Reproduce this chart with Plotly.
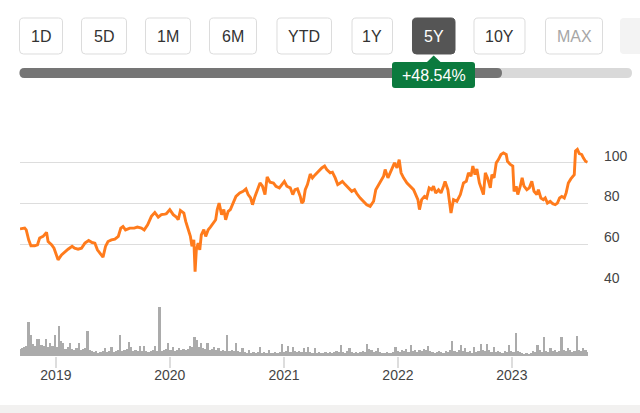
import plotly.graph_objects as go
import pandas as pd

# ---------------- data ----------------
price_dates = [
    "2018-09-08", "2018-09-23", "2018-09-28", "2018-10-06", "2018-10-13", "2018-10-25",
    "2018-11-03", "2018-11-10", "2018-11-21", "2018-12-02", "2018-12-07", "2018-12-18",
    "2018-12-26", "2019-01-03", "2019-01-08", "2019-01-19", "2019-01-30", "2019-02-09",
    "2019-02-22", "2019-03-02", "2019-03-13", "2019-03-24", "2019-04-04", "2019-04-16",
    "2019-04-27", "2019-05-06", "2019-05-14", "2019-05-25", "2019-06-01", "2019-06-09",
    "2019-06-17", "2019-06-28", "2019-07-09", "2019-07-20", "2019-07-28", "2019-08-04",
    "2019-08-12", "2019-08-26", "2019-09-09", "2019-09-19", "2019-10-02", "2019-10-11",
    "2019-10-22", "2019-11-03", "2019-11-14", "2019-11-25", "2019-12-05", "2019-12-16",
    "2019-12-21", "2020-01-01", "2020-01-12", "2020-01-22", "2020-01-28", "2020-02-04",
    "2020-02-15", "2020-02-21", "2020-02-29", "2020-03-07", "2020-03-12", "2020-03-18",
    "2020-03-22", "2020-03-26", "2020-04-01", "2020-04-06", "2020-04-11", "2020-04-19",
    "2020-04-25", "2020-05-03", "2020-05-10", "2020-05-19", "2020-05-27", "2020-06-01",
    "2020-06-07", "2020-06-15", "2020-06-22", "2020-06-28", "2020-07-06", "2020-07-13",
    "2020-07-22", "2020-07-31", "2020-08-12", "2020-08-23", "2020-09-01", "2020-09-08",
    "2020-09-16", "2020-09-22", "2020-09-30", "2020-10-07", "2020-10-16", "2020-10-24",
    "2020-11-01", "2020-11-08", "2020-11-17", "2020-11-28", "2020-12-06", "2020-12-17",
    "2020-12-25", "2021-01-02", "2021-01-10", "2021-01-21", "2021-01-29", "2021-02-05",
    "2021-02-13", "2021-02-22", "2021-02-27", "2021-03-04", "2021-03-10", "2021-03-17",
    "2021-03-26", "2021-04-02", "2021-04-11", "2021-04-21", "2021-05-02", "2021-05-11",
    "2021-05-18", "2021-05-29", "2021-06-05", "2021-06-14", "2021-06-22", "2021-06-30",
    "2021-07-07", "2021-07-16", "2021-07-27", "2021-08-06", "2021-08-15", "2021-08-22",
    "2021-09-02", "2021-09-13", "2021-09-23", "2021-10-04", "2021-10-15", "2021-10-22",
    "2021-10-31", "2021-11-08", "2021-11-16", "2021-11-21", "2021-11-30", "2021-12-07",
    "2021-12-15", "2021-12-21", "2021-12-29", "2022-01-05", "2022-01-11", "2022-01-19",
    "2022-01-30", "2022-02-09", "2022-02-20", "2022-02-27", "2022-03-06", "2022-03-11",
    "2022-03-18", "2022-03-27", "2022-04-03", "2022-04-11", "2022-04-19", "2022-04-25",
    "2022-05-02", "2022-05-11", "2022-05-19", "2022-05-27", "2022-06-01", "2022-06-10",
    "2022-06-15", "2022-06-20", "2022-06-28", "2022-07-09", "2022-07-20", "2022-07-30",
    "2022-08-08", "2022-08-15", "2022-08-23", "2022-08-29", "2022-09-05", "2022-09-11",
    "2022-09-19", "2022-09-27", "2022-10-02", "2022-10-08", "2022-10-15", "2022-10-24",
    "2022-10-29", "2022-11-05", "2022-11-12", "2022-11-19", "2022-11-27", "2022-12-05",
    "2022-12-14", "2022-12-18", "2022-12-27", "2023-01-04", "2023-01-08", "2023-01-15",
    "2023-01-20", "2023-01-28", "2023-02-03", "2023-02-09", "2023-02-18", "2023-02-26",
    "2023-03-06", "2023-03-13", "2023-03-22", "2023-03-27", "2023-04-04", "2023-04-12",
    "2023-04-18", "2023-04-25", "2023-05-04", "2023-05-12", "2023-05-20", "2023-05-27",
    "2023-06-03", "2023-06-10", "2023-06-18", "2023-06-24", "2023-07-01", "2023-07-09",
    "2023-07-15", "2023-07-20", "2023-07-24", "2023-07-30", "2023-08-05", "2023-08-13",
    "2023-08-18", "2023-08-25", "2023-08-31",
]
price_values = [
    67.5, 67.9, 67.0, 62.0, 59.2, 59.2,
    59.7, 63.0, 63.8, 65.8, 61.3, 59.7,
    58.0, 53.9, 52.3, 54.7, 56.4, 57.5,
    58.9, 58.0, 57.5, 58.0, 60.5, 61.8,
    60.8, 60.5, 57.2, 54.7, 53.6, 58.9,
    61.3, 62.1, 62.5, 63.8, 67.9, 68.7,
    67.0, 67.9, 67.9, 68.4, 67.9, 67.0,
    69.5, 73.7, 75.6, 73.3, 74.5, 74.8,
    75.0, 77.0, 74.5, 73.3, 72.0, 76.6,
    75.3, 71.2, 67.1, 63.8, 58.9, 62.1,
    46.5, 57.2, 60.5, 57.2, 64.6, 67.1,
    63.8, 67.1, 68.4, 70.4, 72.0, 77.0,
    80.2, 74.5, 77.0, 72.0, 76.1, 77.0,
    80.2, 83.5, 85.2, 86.0, 87.2, 84.4,
    82.7, 79.4, 83.5, 86.8, 90.1, 88.5,
    84.4, 93.1, 90.5, 90.1, 88.5, 87.7,
    89.3, 90.9, 88.5, 87.7, 84.4, 86.8,
    87.2, 83.5, 80.2, 81.1, 86.8, 89.3,
    94.5, 92.6, 94.2, 95.9, 97.5, 98.4,
    96.7, 95.1, 95.4, 92.6, 89.3, 90.1,
    90.9, 89.3, 87.7, 86.0, 86.8, 84.9,
    82.7, 81.1, 79.4, 78.6, 81.1, 86.8,
    89.3, 90.9, 93.4, 96.7, 92.6, 95.1,
    98.4, 100.0, 97.5, 101.6, 95.1, 92.6,
    90.1, 88.5, 86.8, 84.4, 81.9, 77.0,
    81.9, 83.5, 82.7, 87.7, 86.8, 88.5,
    85.2, 86.8, 85.2, 88.5, 90.9, 86.8,
    80.2, 75.3, 81.9, 81.1, 84.4, 90.1,
    90.9, 95.1, 93.4, 98.4, 94.2, 97.0,
    90.1, 86.0, 84.4, 95.1, 92.6, 87.7,
    94.2, 92.6, 100.0, 101.6, 104.1, 104.9,
    104.1, 100.8, 99.2, 98.4, 86.0, 88.5,
    84.4, 88.5, 92.6, 88.5, 86.8, 87.7,
    90.9, 86.0, 84.4, 86.8, 82.7, 81.9,
    82.7, 80.2, 81.1, 79.9, 79.4, 80.2,
    82.7, 83.5, 82.7, 85.2, 90.1, 92.1,
    93.4, 94.2, 105.8, 106.6, 104.6, 104.1,
    102.5, 100.8, 100.3,
]

# weekly volume, in units of 100,000 shares (first week ending 2018-09-07)
vol_start = "2018-09-07"
volume_100k = [
    7, 8, 9, 10, 34, 21, 12, 10, 17, 17, 11, 10, 17, 9, 13, 10, 21, 9, 30, 15,
    13, 7, 9, 13, 7, 6, 8, 13, 6, 7, 8, 25, 6, 5, 4, 5, 3, 4, 5, 8,
    4, 5, 9, 4, 5, 6, 21, 5, 6, 7, 14, 9, 5, 6, 5, 10, 5, 10, 5, 4,
    5, 6, 10, 5, 49, 5, 6, 7, 13, 6, 9, 5, 6, 8, 6, 7, 6, 7, 10, 9,
    19, 16, 9, 13, 8, 7, 13, 6, 7, 9, 6, 8, 5, 6, 5, 21, 5, 6, 5, 13,
    5, 4, 8, 4, 3, 6, 3, 4, 3, 4, 9, 3, 4, 3, 6, 3, 3, 4, 3, 4,
    12, 4, 5, 10, 4, 9, 5, 4, 5, 4, 8, 4, 9, 4, 3, 8, 3, 4, 3, 3,
    4, 3, 4, 3, 4, 5, 4, 11, 4, 3, 5, 8, 4, 3, 4, 3, 4, 5, 4, 12,
    7, 6, 4, 5, 8, 4, 3, 3, 4, 3, 3, 4, 9, 5, 4, 6, 5, 7, 4, 11,
    5, 6, 4, 6, 5, 7, 6, 10, 5, 4, 3, 4, 5, 4, 3, 5, 4, 6, 15, 5,
    4, 6, 11, 5, 8, 4, 5, 3, 9, 4, 5, 12, 6, 5, 12, 6, 4, 9, 4, 5,
    4, 3, 5, 4, 11, 5, 4, 23, 5, 4, 3, 2, 3, 2, 3, 5, 4, 11, 6, 4,
    19, 5, 4, 8, 5, 6, 4, 5, 19, 6, 5, 8, 6, 4, 5, 20, 6, 5, 8, 6,
    4,
]

year_ticks = ["2019-01-01", "2020-01-01", "2021-01-01", "2022-01-01", "2023-01-01"]
year_labels = ["2019", "2020", "2021", "2022", "2023"]
price_ticks = [40, 60, 80, 100, 120]
price_tick_labels = ["40", "60", "80", "100", ""]
range_buttons = ["1D", "5D", "1M", "6M", "YTD", "1Y", "5Y", "10Y", "MAX"]
active_button = "5Y"
disabled_button = "MAX"
change_label = "+48.54%"

# ---------------- figure ----------------
W, H = 640, 413


def fx(x):
    return x / W


def fy(y):
    return 1 - y / H


def rrect(x0, y0, x1, y1, r):
    pts = [
        ("M", [(x0 + r, y0)]), ("L", [(x1 - r, y0)]), ("Q", [(x1, y0), (x1, y0 + r)]),
        ("L", [(x1, y1 - r)]), ("Q", [(x1, y1), (x1 - r, y1)]), ("L", [(x0 + r, y1)]),
        ("Q", [(x0, y1), (x0, y1 - r)]), ("L", [(x0, y0 + r)]), ("Q", [(x0, y0), (x0 + r, y0)]),
    ]
    s = ""
    for cmd, ps in pts:
        s += cmd + " " + " ".join(f"{fx(a):.5f},{fy(b):.5f}" for a, b in ps) + " "
    return s + "Z"


vol_dates = pd.date_range(vol_start, periods=len(volume_100k), freq="W-FRI")
volumes = [v * 1e5 for v in volume_100k]

fig = go.Figure()
fig.add_trace(go.Bar(
    x=vol_dates, y=volumes, xaxis="x", yaxis="y2",
    marker=dict(color="#ababab", line=dict(width=0)), hoverinfo="skip",
))
fig.add_trace(go.Scatter(
    x=price_dates, y=price_values, xaxis="x", yaxis="y", mode="lines",
    line=dict(color="#ff7b1c", width=2.9), hoverinfo="skip",
))

font_family = "Liberation Sans, Arial, sans-serif"

fig.update_layout(
    width=W, height=H,
    margin=dict(l=0, r=0, t=0, b=0),
    paper_bgcolor="white", plot_bgcolor="white",
    showlegend=False, bargap=0,
    font=dict(family=font_family, color="#444"),
    xaxis=dict(
        domain=[fx(20), fx(588)], anchor="y2",
        range=["2018-09-08", "2023-09-02"],
        tickvals=year_ticks, ticktext=year_labels,
        ticks="outside", ticklen=11, tickwidth=1.5, tickcolor="#dddddd",
        showgrid=False, zeroline=False, showline=False,
        ticklabelstandoff=-5,
        tickfont=dict(size=14, color="#444"),
    ),
    yaxis=dict(
        domain=[fy(285), fy(122)], anchor="x", side="right",
        range=[39.9, 120.1],
        tickvals=price_ticks, ticktext=price_tick_labels,
        showgrid=True, gridcolor="#dddddd", gridwidth=1.3,
        zeroline=False, showline=False, ticks="",
        ticklabelstandoff=15, ticklabelshift=-7,
        tickfont=dict(size=14, color="#444"),
    ),
    yaxis2=dict(
        domain=[fy(356), fy(296)], anchor="x",
        range=[0, 6e6], visible=False,
    ),
)

shapes = []
annotations = []

# range buttons
button_x = [(19.5, 62.5), (81.5, 126.5), (145.5, 190.5), (209.5, 256.5), (277, 331.5),
            (352, 392.5), (412.5, 455), (474, 525), (545.5, 602.5)]
for label, (x0, x1) in zip(range_buttons, button_x):
    active = label == active_button
    shapes.append(dict(
        type="path", xref="paper", yref="paper", path=rrect(x0, 18, x1, 54, 4),
        fillcolor="#555555" if active else "white",
        line=dict(color="#555555" if active else "#dcdcdc", width=1),
    ))
    color = "white" if active else ("#a6a6a6" if label == disabled_button else "#333333")
    annotations.append(dict(
        x=fx((x0 + x1) / 2), y=fy(36.5), xref="paper", yref="paper", text=label,
        showarrow=False, xanchor="center", yanchor="middle",
        font=dict(size=16, color=color, family=font_family),
    ))
# partially visible next control at right edge
shapes.append(dict(type="path", xref="paper", yref="paper", path=rrect(620, 18, 660, 54, 4),
                   fillcolor="#f3f3f3", line=dict(width=0)))

# progress bar
shapes.append(dict(type="path", xref="paper", yref="paper", path=rrect(19.5, 68, 632, 78, 5),
                   fillcolor="#d9d9d9", line=dict(width=0)))
shapes.append(dict(type="path", xref="paper", yref="paper", path=rrect(19.5, 68, 502, 78, 5),
                   fillcolor="#757575", line=dict(width=0)))

# change badge with pointer
badge_green = "#0b7a3e"
shapes.append(dict(type="path", xref="paper", yref="paper", path=rrect(392, 62, 475, 88, 3),
                   fillcolor=badge_green, line=dict(width=0)))
shapes.append(dict(
    type="path", xref="paper", yref="paper",
    path=f"M {fx(426.5)},{fy(62.5)} L {fx(433.7)},{fy(55.5)} L {fx(441)},{fy(62.5)} Z",
    fillcolor=badge_green, line=dict(width=0)))
annotations.append(dict(
    x=fx(433.5), y=fy(75.5), xref="paper", yref="paper", text=change_label,
    showarrow=False, xanchor="center", yanchor="middle",
    font=dict(size=16, color="white", family=font_family),
))

# bottom band
shapes.append(dict(type="rect", xref="paper", yref="paper", x0=0, x1=1, y0=0, y1=fy(405),
                   fillcolor="#f2f1f0", line=dict(width=0)))

fig.update_layout(shapes=shapes, annotations=annotations)

fig.write_html("out.html", config={"displayModeBar": False})
